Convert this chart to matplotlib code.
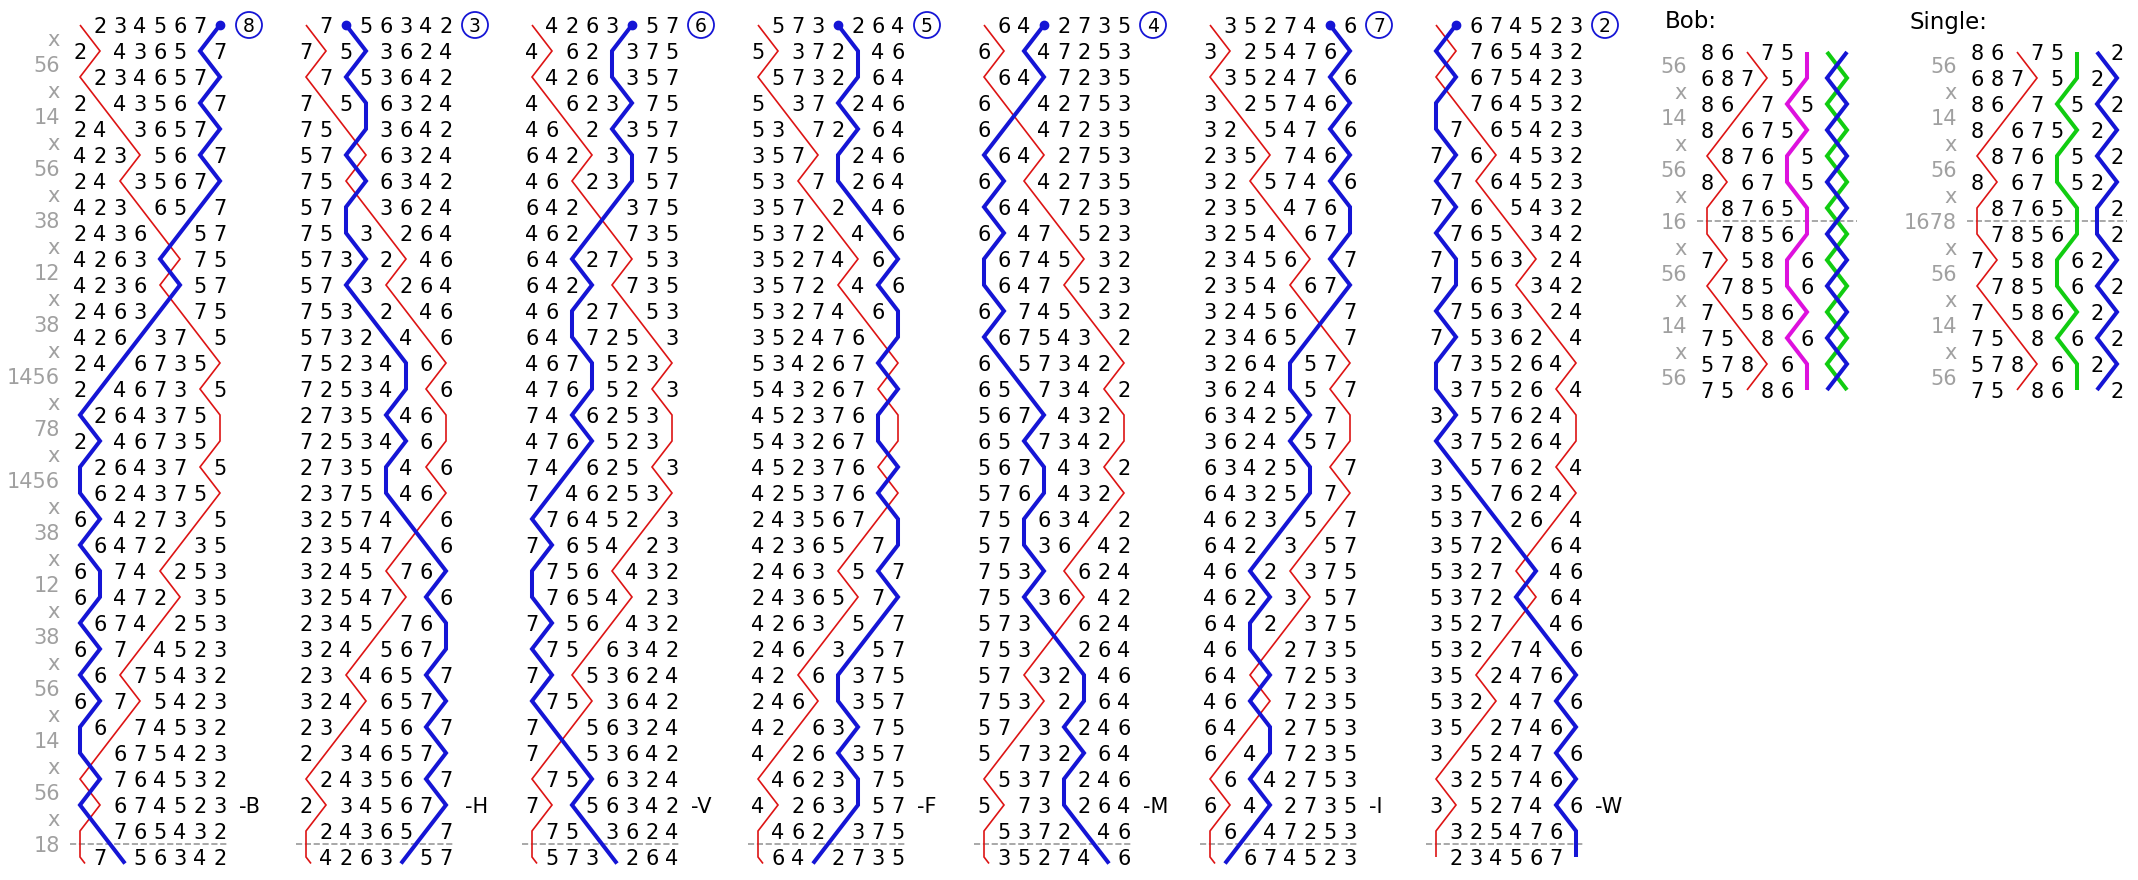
import matplotlib
matplotlib.use("Agg")
import matplotlib.pyplot as plt
from matplotlib.patches import Circle

place_notation = ["x", "56", "x", "14", "x", "56", "x", "38", "x", "12", "x", "38",
                  "x", "1456", "x", "78", "x", "1456", "x", "38", "x", "12", "x", "38",
                  "x", "56", "x", "14", "x", "56", "x", "18"]
start_row = [1, 2, 3, 4, 5, 6, 7, 8]
n_leads = 7
calling_labels = ["-B", "-H", "-V", "-F", "-M", "-I", "-W"]

# call panels: title, call notation, bells drawn as lines and their colours
bob_notation = "16"
single_notation = "1678"
bob_lines = {4: "#dd11dd", 3: "#11cc11", 2: "#1515d5"}
single_lines = {4: "#11cc11", 3: "#1515d5"}
panel_first_row = 25   # first row shown in the panels (row index in the lead)
panel_rows_after = 6   # rows shown after the call

RED = "#dd1414"
BLUE = "#1515d5"
GREY = "#a0a0a0"

# layout (pixels)
COL_X0 = 80
COL_STEP = 226
PLACE_W = 20
ROW_Y0 = 25
ROW_H = 26
BOB_X0 = 1707
SINGLE_X0 = 1977
PANEL_Y0 = 52
FS = 15
BASE = 7.6   # baseline offset so digits sit centred on the row


def apply_pn(row, pn):
    places = set() if pn == "x" else {int(c) for c in pn}
    row = list(row)
    p = 1
    while p < len(row):
        if p in places:
            p += 1
        else:
            row[p - 1], row[p] = row[p], row[p - 1]
            p += 2
    return row


# build the plain course
course = [start_row]
for lead in range(n_leads):
    for pn in place_notation:
        course.append(apply_pn(course[-1], pn))

fig = plt.figure(figsize=(21.38, 8.8), dpi=100)
ax = fig.add_axes([0, 0, 1, 1])
ax.set_xlim(0, 2138)
ax.set_ylim(880, 0)
ax.axis("off")


def draw_line(xs, ys, color, lw):
    ax.plot(xs, ys, color=color, lw=lw, solid_joinstyle="miter",
            solid_capstyle="butt", zorder=3)


lead_len = len(place_notation)
for c in range(n_leads):
    rows = course[c * lead_len: c * lead_len + lead_len + 1]
    x0 = COL_X0 + c * COL_STEP
    for r, row in enumerate(rows):
        y = ROW_Y0 + r * ROW_H
        for p, bell in enumerate(row):
            if bell in (1, 8):
                continue
            ax.text(x0 + p * PLACE_W, y + BASE, str(bell), ha="center",
                    va="baseline", fontsize=FS)
    for bell, color, lw in [(1, RED, 1.2), (8, BLUE, 2.9)]:
        xs = [x0 + row.index(bell) * PLACE_W for row in rows]
        ys = [ROW_Y0 + r * ROW_H for r in range(len(rows))]
        if c < n_leads - 1:
            nxt = apply_pn(rows[-1], place_notation[0])
            nx = x0 + nxt.index(bell) * PLACE_W
            xs.append(xs[-1] + 0.25 * (nx - xs[-1]))
            ys.append(ys[-1] + 0.25 * ROW_H)
        draw_line(xs, ys, color, lw)
    # start of the blue line and its place bell
    start_place = rows[0].index(8)
    ax.plot(x0 + start_place * PLACE_W, ROW_Y0, "o", color=BLUE, ms=6, zorder=4)
    cx = x0 + 7 * PLACE_W + 29
    ax.add_patch(Circle((cx, ROW_Y0), 13, fill=False, ec=BLUE, lw=1.3))
    ax.text(cx, ROW_Y0 + 6.8, str(start_place + 1), ha="center", va="baseline",
            fontsize=13.5)
    # lead end
    y_le = ROW_Y0 + (lead_len - 0.5) * ROW_H
    ax.plot([x0 - 10, x0 + 7 * PLACE_W + 8], [y_le, y_le], "--", color="#999999",
            lw=1.2, zorder=1)
    ax.text(x0 + 7 * PLACE_W + 19, ROW_Y0 + (lead_len - 2) * ROW_H + BASE,
            calling_labels[c], ha="left", va="baseline", fontsize=FS)

# place notation down the left margin
for i, pn in enumerate(place_notation):
    ax.text(COL_X0 - 20, ROW_Y0 + (i + 0.5) * ROW_H + BASE, pn, ha="right",
            va="baseline", fontsize=FS, color=GREY)


def draw_panel(title, x0, call, lines):
    before = course[panel_first_row: lead_len]
    rows = list(before)
    rows.append(apply_pn(rows[-1], call))
    for pn in place_notation[:panel_rows_after]:
        rows.append(apply_pn(rows[-1], pn))
    labels = place_notation[panel_first_row: lead_len - 1] + [call] + \
        place_notation[:panel_rows_after]
    ax.text(x0 + 10, 28.5, title, ha="right", va="baseline", fontsize=16.5)
    for r, row in enumerate(rows):
        y = PANEL_Y0 + r * ROW_H
        for p, bell in enumerate(row):
            if bell == 1 or bell in lines:
                continue
            ax.text(x0 + p * PLACE_W, y + BASE, str(bell), ha="center",
                    va="baseline", fontsize=FS)
    for i, lab in enumerate(labels):
        ax.text(x0 - 20, PANEL_Y0 + (i + 0.5) * ROW_H + BASE, lab, ha="right",
                va="baseline", fontsize=FS, color=GREY)
    ys = [PANEL_Y0 + r * ROW_H for r in range(len(rows))]
    draw_line([x0 + row.index(1) * PLACE_W for row in rows], ys, RED, 1.2)
    for bell, color in lines.items():
        draw_line([x0 + row.index(bell) * PLACE_W for row in rows], ys, color, 2.9)
    y_le = PANEL_Y0 + (len(before) - 0.5) * ROW_H
    ax.plot([x0 - 10, x0 + 7 * PLACE_W + 10], [y_le, y_le], "--", color="#999999",
            lw=1.2, zorder=1)


draw_panel("Bob:", BOB_X0, bob_notation, bob_lines)
draw_panel("Single:", SINGLE_X0, single_notation, single_lines)

fig.savefig("out.png", dpi=100)
